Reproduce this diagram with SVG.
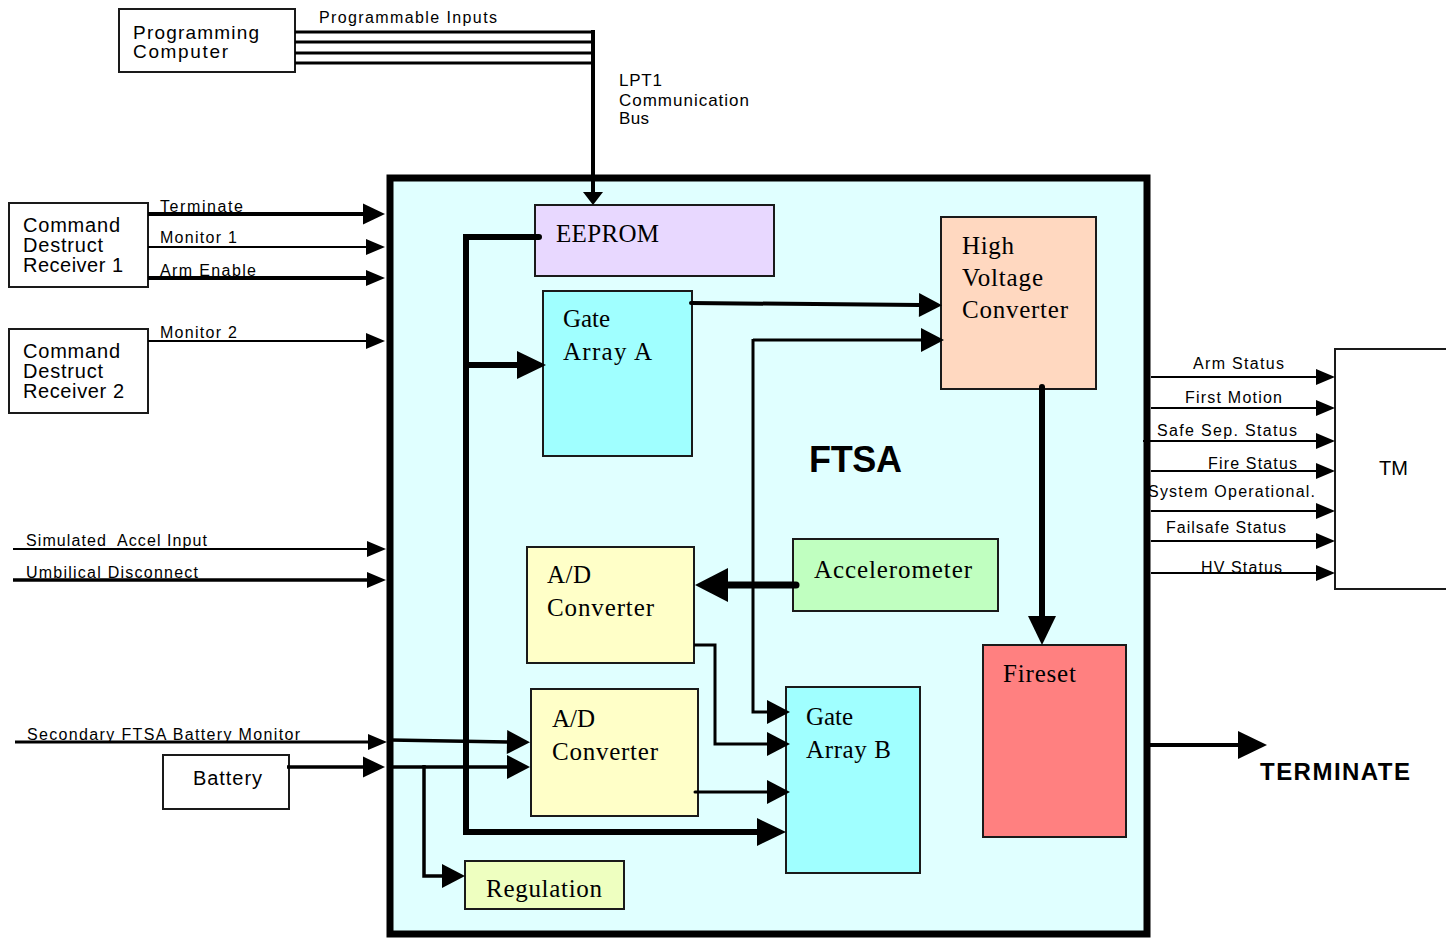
<svg xmlns="http://www.w3.org/2000/svg" width="1446" height="938" viewBox="0 0 1446 938">
<style>
.box{stroke:#1a1a1a;stroke-width:2}
.ext{fill:#ffffff;stroke:#1a1a1a;stroke-width:2}
.sans{font-family:"Liberation Sans",Arial,sans-serif;fill:#000}
.serif{font-family:"Liberation Serif","Times New Roman",serif;fill:#000;font-size:25px}
.lbl{font-size:16px}
.big{font-size:20px}
.ln{fill:none;stroke:#000}
</style>
<defs>
<marker id="m0" markerUnits="userSpaceOnUse" markerWidth="14" markerHeight="20" refX="1" refY="10" orient="auto" overflow="visible"><path d="M0,0 L13,10 L0,20 z" fill="#000"/></marker>
<marker id="m1" markerUnits="userSpaceOnUse" markerWidth="20" markerHeight="16" refX="1" refY="8" orient="auto" overflow="visible"><path d="M0,0 L19,8 L0,16 z" fill="#000"/></marker>
<marker id="m2" markerUnits="userSpaceOnUse" markerWidth="23" markerHeight="21" refX="1" refY="10.5" orient="auto" overflow="visible"><path d="M0,0 L22,10.5 L0,21 z" fill="#000"/></marker>
<marker id="m3" markerUnits="userSpaceOnUse" markerWidth="24" markerHeight="24" refX="1" refY="12" orient="auto" overflow="visible"><path d="M0,0 L23,12 L0,24 z" fill="#000"/></marker>
<marker id="m4" markerUnits="userSpaceOnUse" markerWidth="30" markerHeight="28" refX="1" refY="14" orient="auto" overflow="visible"><path d="M0,0 L29,14 L0,28 z" fill="#000"/></marker>
<marker id="m5" markerUnits="userSpaceOnUse" markerWidth="34" markerHeight="34" refX="1" refY="17" orient="auto" overflow="visible"><path d="M0,0 L33,17 L0,34 z" fill="#000"/></marker>
</defs>

<g id="ftsa">
<rect x="390" y="178" width="757" height="756" fill="#e0ffff" stroke="#000" stroke-width="7"/>
<text class="sans" x="809" y="472" font-size="36" font-weight="bold" textLength="93">FTSA</text>
</g>

<g id="programming-computer">
<rect class="ext" x="119" y="9" width="176" height="63"/>
<text class="sans" font-size="19" x="133" y="39" textLength="126">Programming</text>
<text class="sans" font-size="19" x="133" y="58" textLength="95">Computer</text>
</g>

<g id="cdr1">
<rect class="ext" x="9" y="203" width="139" height="84"/>
<text class="sans big" x="23" y="232" textLength="97">Command</text>
<text class="sans big" x="23" y="252" textLength="80">Destruct</text>
<text class="sans big" x="23" y="272" textLength="100">Receiver 1</text>
</g>

<g id="cdr2">
<rect class="ext" x="9" y="329" width="139" height="84"/>
<text class="sans big" x="23" y="358" textLength="97">Command</text>
<text class="sans big" x="23" y="378" textLength="80">Destruct</text>
<text class="sans big" x="23" y="398" textLength="101">Receiver 2</text>
</g>

<g id="battery">
<rect class="ext" x="163" y="755" width="126" height="54"/>
<text class="sans big" x="193" y="785" textLength="69">Battery</text>
</g>

<g id="tm">
<rect class="ext" x="1335" y="349" width="130" height="240"/>
<text class="sans big" x="1379" y="475" textLength="29">TM</text>
</g>

<g id="eeprom">
<rect class="box" x="535" y="205" width="239" height="71" fill="#e8d8ff"/>
<text class="serif" x="556" y="242" textLength="103">EEPROM</text>
</g>

<g id="gate-array-a">
<rect class="box" x="543" y="291" width="149" height="165" fill="#a0ffff"/>
<text class="serif" x="563" y="327" textLength="47">Gate</text>
<text class="serif" x="563" y="360" textLength="89">Array A</text>
</g>

<g id="hv-converter">
<rect class="box" x="941" y="217" width="155" height="172" fill="#ffd8c0"/>
<text class="serif" x="962" y="254" textLength="52">High</text>
<text class="serif" x="962" y="286" textLength="81">Voltage</text>
<text class="serif" x="962" y="318" textLength="106">Converter</text>
</g>

<g id="accelerometer">
<rect class="box" x="793" y="539" width="205" height="72" fill="#c0ffc0"/>
<text class="serif" x="814" y="578" textLength="158">Accelerometer</text>
</g>

<g id="ad-converter-1">
<rect class="box" x="527" y="547" width="167" height="116" fill="#ffffc8"/>
<text class="serif" x="547" y="583" textLength="44">A/D</text>
<text class="serif" x="547" y="616" textLength="107">Converter</text>
</g>

<g id="ad-converter-2">
<rect class="box" x="531" y="689" width="167" height="127" fill="#ffffc8"/>
<text class="serif" x="552" y="727" textLength="43">A/D</text>
<text class="serif" x="552" y="760" textLength="106">Converter</text>
</g>

<g id="gate-array-b">
<rect class="box" x="786" y="687" width="134" height="186" fill="#a0ffff"/>
<text class="serif" x="806" y="725" textLength="47">Gate</text>
<text class="serif" x="806" y="758" textLength="85">Array B</text>
</g>

<g id="fireset">
<rect class="box" x="983" y="645" width="143" height="192" fill="#ff8080"/>
<text class="serif" x="1003" y="682" textLength="73">Fireset</text>
</g>

<g id="regulation">
<rect class="box" x="465" y="861" width="159" height="48" fill="#eeffc0"/>
<text class="serif" x="486" y="897" textLength="116">Regulation</text>
</g>

<g id="connectors">
<path class="ln" stroke-width="3" d="M295,32 H594 M295,42 H594 M295,53 H594 M295,63 H594"/>
<path class="ln" stroke-width="4" d="M593,30 V193" marker-end="url(#m0)"/>
<path class="ln" stroke-width="4" d="M148,214 H364" marker-end="url(#m2)"/>
<path class="ln" stroke-width="2" d="M148,247 H367" marker-end="url(#m1)"/>
<path class="ln" stroke-width="4" d="M148,278 H367" marker-end="url(#m1)"/>
<path class="ln" stroke-width="2" d="M148,341 H367" marker-end="url(#m1)"/>
<path class="ln" stroke-width="2" d="M13,549 H368" marker-end="url(#m1)"/>
<path class="ln" stroke-width="3.5" d="M13,580 H368" marker-end="url(#m1)"/>
<path class="ln" stroke-width="3" d="M15,742 H369" marker-end="url(#m1)"/>
<path class="ln" stroke-width="3.5" d="M287,767 H364" marker-end="url(#m2)"/>
<path class="ln" stroke-width="3.5" d="M390,740 L508,742" marker-end="url(#m3)"/>
<path class="ln" stroke-width="3.5" d="M390,767 H508" marker-end="url(#m3)"/>
<path class="ln" stroke-width="3.5" d="M424,765 V876 H443" marker-end="url(#m3)"/>
<path class="ln" stroke-width="6" stroke-linecap="round" d="M539,237 H466 V832 H758" marker-end="url(#m4)"/>
<path class="ln" stroke-width="6" d="M466,365 H518" marker-end="url(#m4)"/>
<path class="ln" stroke-width="4" stroke-linecap="round" d="M691,303 L920,305" marker-end="url(#m3)"/>
<path class="ln" stroke-width="3" d="M753,340 H922" marker-end="url(#m3)"/>
<path class="ln" stroke-width="3" d="M753,339 V712 H768" marker-end="url(#m3)"/>
<path class="ln" stroke-width="6" stroke-linecap="round" d="M1042,387 V617" marker-end="url(#m4)"/>
<path class="ln" stroke-width="7" stroke-linecap="round" d="M796,585 H727" marker-end="url(#m5)"/>
<path class="ln" stroke-width="3" d="M694,645 H715 V744 H768" marker-end="url(#m3)"/>
<path class="ln" stroke-width="3" stroke-linecap="round" d="M695,792 H768" marker-end="url(#m3)"/>
<path class="ln" stroke-width="4" d="M1150,745 H1239" marker-end="url(#m4)"/>
<path class="ln" stroke-width="2" d="M1151,377 H1317" marker-end="url(#m1)"/>
<path class="ln" stroke-width="2" d="M1151,408 H1317" marker-end="url(#m1)"/>
<path class="ln" stroke-width="2" d="M1143,441 H1317" marker-end="url(#m1)"/>
<path class="ln" stroke-width="2" d="M1151,471 H1317" marker-end="url(#m1)"/>
<path class="ln" stroke-width="2" d="M1151,511 H1317" marker-end="url(#m1)"/>
<path class="ln" stroke-width="2" d="M1151,541 H1317" marker-end="url(#m1)"/>
<path class="ln" stroke-width="2" d="M1151,573 H1317" marker-end="url(#m1)"/>
</g>

<g id="labels">
<text class="sans lbl" x="319" y="23" textLength="178">Programmable Inputs</text>
<text class="sans" font-size="17" x="619" y="86" textLength="43">LPT1</text>
<text class="sans" font-size="17" x="619" y="106" textLength="130">Communication</text>
<text class="sans" font-size="17" x="619" y="124" textLength="30">Bus</text>
<text class="sans lbl" x="160" y="212" textLength="83">Terminate</text>
<text class="sans lbl" x="160" y="243" textLength="77">Monitor 1</text>
<text class="sans lbl" x="160" y="276" textLength="96">Arm Enable</text>
<text class="sans lbl" x="160" y="338" textLength="77">Monitor 2</text>
<text class="sans lbl" x="26" y="546" textLength="181" xml:space="preserve">Simulated  Accel Input</text>
<text class="sans lbl" x="26" y="578" textLength="172">Umbilical Disconnect</text>
<text class="sans lbl" x="27" y="740" textLength="273">Secondary FTSA Battery Monitor</text>
<text class="sans lbl" x="1193" y="369" textLength="91">Arm Status</text>
<text class="sans lbl" x="1185" y="403" textLength="97">First Motion</text>
<text class="sans lbl" x="1157" y="436" textLength="140">Safe Sep. Status</text>
<text class="sans lbl" x="1208" y="469" textLength="89">Fire Status</text>
<text class="sans lbl" x="1148" y="497" textLength="167">System Operational.</text>
<text class="sans lbl" x="1166" y="533" textLength="120">Failsafe Status</text>
<text class="sans lbl" x="1201" y="573" textLength="81">HV Status</text>
<text class="sans" x="1260" y="780" font-size="24" font-weight="bold" textLength="150">TERMINATE</text>
</g>
</svg>
